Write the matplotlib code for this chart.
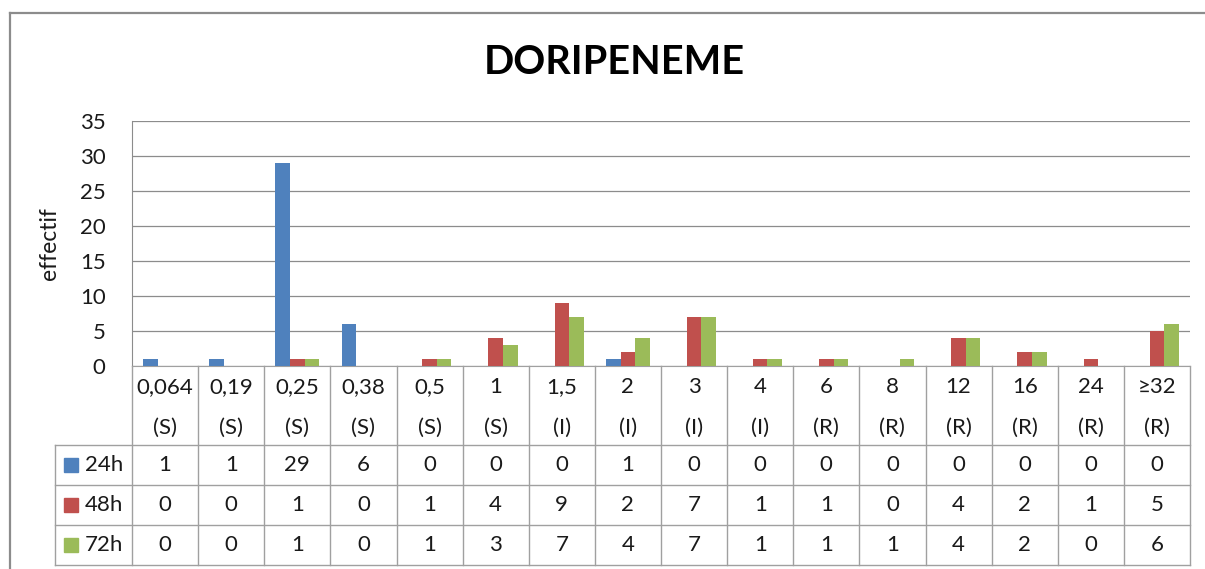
import matplotlib
matplotlib.use('Agg')
import matplotlib.pyplot as plt
from matplotlib.lines import Line2D

plt.rcParams['font.family'] = ['Lato', 'DejaVu Sans']

# data
concentrations = ['0,064', '0,19', '0,25', '0,38', '0,5', '1', '1,5', '2',
                  '3', '4', '6', '8', '12', '16', '24', '≥32']
categories = ['(S)', '(S)', '(S)', '(S)', '(S)', '(S)', '(I)', '(I)',
              '(I)', '(I)', '(R)', '(R)', '(R)', '(R)', '(R)', '(R)']
series_names = ['24h', '48h', '72h']
v24 = [1, 1, 29, 6, 0, 0, 0, 1, 0, 0, 0, 0, 0, 0, 0, 0]
v48 = [0, 0, 1, 0, 1, 4, 9, 2, 7, 1, 1, 0, 4, 2, 1, 5]
v72 = [0, 0, 1, 0, 1, 3, 7, 4, 7, 1, 1, 1, 4, 2, 0, 6]
colors = ['#4F81BD', '#C0504D', '#9BBB59']

W, H = 1205, 569
fig = plt.figure(figsize=(W / 100, H / 100), dpi=100, facecolor='white')

# outer chart frame (left + top only visible)
frame_col = '#8C8C8C'
fig.add_artist(Line2D([10 / W, 10 / W], [0, 1 - 13 / H], transform=fig.transFigure,
                      color=frame_col, lw=1.6))
fig.add_artist(Line2D([10 / W, 1], [1 - 13 / H, 1 - 13 / H], transform=fig.transFigure,
                      color=frame_col, lw=1.6))

fs = 16

# ---- bar plot area
px_l, px_r, px_t, px_b = 132, 1190, 121, 366
ax = fig.add_axes([px_l / W, 1 - px_b / H, (px_r - px_l) / W, (px_b - px_t) / H])
n = len(concentrations)
xs = list(range(n))
bw = 0.22
for k, vals in enumerate([v24, v48, v72]):
    ax.bar([x + (k - 1) * bw for x in xs], vals, width=bw, color=colors[k],
           zorder=3, linewidth=0)
ax.set_xlim(-0.5, n - 0.5)
ax.set_ylim(0, 35)
ax.set_yticks(range(0, 36, 5))
ax.set_xticks([])
ax.grid(axis='y', color='#8C8C8C', lw=0.9, zorder=0)
for s in ['top', 'right']:
    ax.spines[s].set_visible(False)
ax.spines['left'].set_color('#8C8C8C')
ax.spines['bottom'].set_color('#A0A0A0')
ax.tick_params(axis='y', length=0, labelsize=fs, pad=19, colors='#1a1a1a')
ax.set_ylabel('effectif', fontsize=16.5, labelpad=14, color='#1a1a1a')

fig.text(614 / W, 1 - 62 / H, 'DORIPENEME', ha='center', va='center',
         fontsize=28.5, fontweight='bold', color='black')

# ---- data table under the chart
col_w = (px_r - px_l) / n          # pixels per category
leg_w = (px_l - 55) / col_w        # legend column width in category units
head_h, row_h = 79, 40
tot_h = head_h + row_h * len(series_names)
axt = fig.add_axes([55 / W, 1 - (px_b + tot_h) / H, (px_r - 55) / W, tot_h / H])
axt.set_xlim(-0.5 - leg_w, n - 0.5)
axt.set_ylim(tot_h, 0)
axt.axis('off')

lc = '#A0A0A0'
lw = 1.0
# vertical lines
for i in range(n + 1):
    axt.plot([i - 0.5, i - 0.5], [0, tot_h], color=lc, lw=lw, clip_on=False)
axt.plot([-0.5 - leg_w] * 2, [head_h, tot_h], color=lc, lw=lw, clip_on=False)
# horizontal lines
for r in range(len(series_names) + 1):
    y = head_h + r * row_h
    axt.plot([-0.5 - leg_w, n - 0.5], [y, y], color=lc, lw=lw, clip_on=False)

txt = dict(ha='center', va='center', fontsize=fs, color='#1a1a1a')
for i in range(n):
    axt.text(i, 21, concentrations[i], **txt)
    axt.text(i, 62, categories[i], **txt)

for r, (name, vals) in enumerate(zip(series_names, [v24, v48, v72])):
    yc = head_h + (r + 0.5) * row_h
    axt.plot(-0.5 - leg_w + 0.24, yc, marker='s', ms=10, color=colors[r],
             clip_on=False, lw=0)
    axt.text(-0.5 - leg_w + 0.45, yc, name, ha='left', va='center',
             fontsize=fs, color='#1a1a1a')
    for i in range(n):
        axt.text(i, yc, str(vals[i]), **txt)

fig.savefig('out.png', dpi=100, facecolor='white')
